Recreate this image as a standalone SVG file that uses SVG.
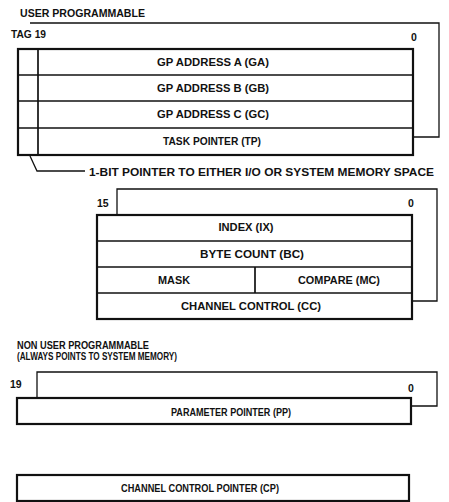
<svg xmlns="http://www.w3.org/2000/svg" width="449" height="502" viewBox="0 0 449 502">
<style>
text{font-family:"Liberation Sans",Arial,sans-serif;font-weight:bold;font-size:10.5px;fill:#111}
.c{text-anchor:middle}
.s{font-size:10px}
.back{fill:none;stroke:#111;stroke-width:1.3}
.box{fill:#fff;stroke:#111;stroke-width:2.2}
.div{stroke:#111;stroke-width:1.7}
.conn{fill:none;stroke:#111;stroke-width:1.3}
</style>
<rect width="449" height="502" fill="#fff"/>
<g id="user-programmable">
<text x="20" y="17" textLength="125" lengthAdjust="spacingAndGlyphs">USER PROGRAMMABLE</text>
<path class="back" d="M30,23 H439 V137 H413"/>
<text x="11" y="38" textLength="35" lengthAdjust="spacingAndGlyphs">TAG 19</text>
<text x="411" y="41">0</text>
<rect class="box" x="18" y="49" width="395" height="106"/>
<line class="div" x1="38" y1="49" x2="38" y2="155"/>
<line class="div" x1="18" y1="75" x2="413" y2="75"/>
<line class="div" x1="18" y1="101" x2="413" y2="101"/>
<line class="div" x1="18" y1="128" x2="413" y2="128"/>
<text class="c" x="213" y="66" textLength="112" lengthAdjust="spacingAndGlyphs">GP ADDRESS A (GA)</text>
<text class="c" x="213" y="92" textLength="112" lengthAdjust="spacingAndGlyphs">GP ADDRESS B (GB)</text>
<text class="c" x="213" y="118" textLength="112" lengthAdjust="spacingAndGlyphs">GP ADDRESS C (GC)</text>
<text class="c" x="212" y="145" textLength="98" lengthAdjust="spacingAndGlyphs">TASK POINTER (TP)</text>
</g>
<g id="connectors">
<path class="conn" d="M30,156 L37,171 H85"/>
</g>
<text x="89" y="176" textLength="345" lengthAdjust="spacingAndGlyphs">1-BIT POINTER TO EITHER I/O OR SYSTEM MEMORY SPACE</text>
<g id="channel-block">
<path class="back" d="M117,214 V189 H437 V301 H412"/>
<text x="97" y="207">15</text>
<text x="408" y="207">0</text>
<rect class="box" x="97" y="215" width="315" height="104"/>
<line class="div" x1="97" y1="241" x2="412" y2="241"/>
<line class="div" x1="97" y1="267" x2="412" y2="267"/>
<line class="div" x1="97" y1="293" x2="412" y2="293"/>
<line class="div" x1="255" y1="267" x2="255" y2="293"/>
<text class="c" x="246" y="231" textLength="55" lengthAdjust="spacingAndGlyphs">INDEX (IX)</text>
<text class="c" x="252" y="258" textLength="104" lengthAdjust="spacingAndGlyphs">BYTE COUNT (BC)</text>
<text class="c" x="174" y="284" textLength="32" lengthAdjust="spacingAndGlyphs">MASK</text>
<text class="c" x="339" y="284" textLength="82" lengthAdjust="spacingAndGlyphs">COMPARE (MC)</text>
<text class="c" x="251" y="310" textLength="140" lengthAdjust="spacingAndGlyphs">CHANNEL CONTROL (CC)</text>
</g>
<g id="non-user-programmable">
<text class="s" x="17" y="349" textLength="132" lengthAdjust="spacingAndGlyphs">NON USER PROGRAMMABLE</text>
<text class="s" x="17" y="360" textLength="160" lengthAdjust="spacingAndGlyphs">(ALWAYS POINTS TO SYSTEM MEMORY)</text>
<path class="back" d="M37,397 V372 H437 V406 H411"/>
<text x="10" y="388">19</text>
<text x="408" y="392">0</text>
<rect class="box" x="17" y="398" width="394" height="26"/>
<text class="c s" x="231" y="416" textLength="120" lengthAdjust="spacingAndGlyphs">PARAMETER POINTER (PP)</text>
</g>
<g id="cp">
<rect class="box" x="17" y="475" width="392" height="26"/>
<text class="c s" x="200" y="492" textLength="158" lengthAdjust="spacingAndGlyphs">CHANNEL CONTROL POINTER (CP)</text>
</g>
</svg>
